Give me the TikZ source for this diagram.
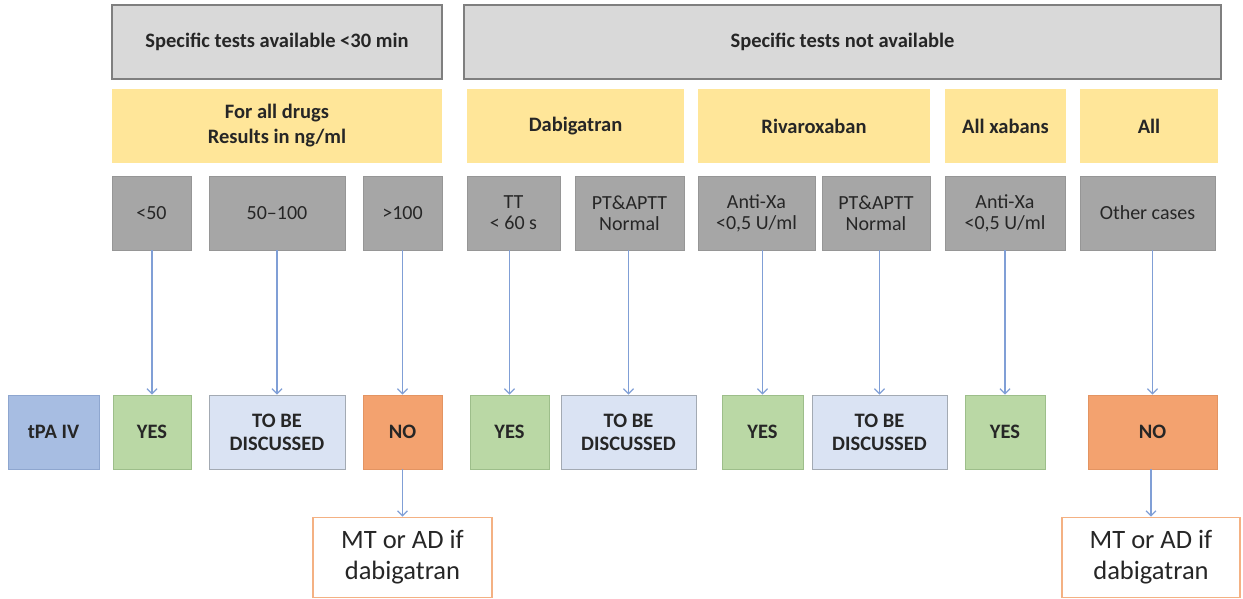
\documentclass[tikz,border=0pt]{standalone}
\usepackage{fontspec}
\setmainfont{Carlito}
\usetikzlibrary{arrows.meta}
\definecolor{hdrfill}{HTML}{D9D9D9}
\definecolor{hdrline}{HTML}{7F7F7F}
\definecolor{yel}{HTML}{FFE699}
\definecolor{gfill}{HTML}{A6A6A6}
\definecolor{gline}{HTML}{969696}
\definecolor{tpafill}{HTML}{A7BDE2}
\definecolor{tpaline}{HTML}{8EA6CF}
\definecolor{yesfill}{HTML}{BAD8A5}
\definecolor{yesline}{HTML}{9DBE8A}
\definecolor{tbdfill}{HTML}{DAE3F3}
\definecolor{tbdline}{HTML}{A3AAB3}
\definecolor{nofill}{HTML}{F3A26F}
\definecolor{noline}{HTML}{E39462}
\definecolor{mtline}{HTML}{F4B183}
\definecolor{arrc}{HTML}{809FD6}
\definecolor{txt}{HTML}{262626}
\tikzset{
  box/.style={rectangle, inner sep=0pt, align=center, text=txt, font=\fontsize{20.5}{25}\selectfont\bfseries, minimum height=74pt},
  hdr/.style={box, fill=hdrfill, draw=hdrline, line width=1.6pt},
  yelbox/.style={box, fill=yel},
  greybox/.style={box, fill=gfill, draw=gline, line width=0.8pt, font=\fontsize{20}{21}\selectfont, text=txt},
  tpabox/.style={box, fill=tpafill, draw=tpaline, line width=0.8pt},
  yesbox/.style={box, fill=yesfill, draw=yesline, line width=0.8pt},
  tbdbox/.style={box, fill=tbdfill, draw=tbdline, line width=0.8pt, font=\fontsize{20.5}{23}\selectfont\bfseries},
  nobox/.style={box, fill=nofill, draw=noline, line width=0.8pt},
  mtbox/.style={box, fill=white, draw=mtline, line width=1.6pt, minimum height=80pt, font=\fontsize{26.5}{31}\selectfont},
  arr/.style={draw=arrc, line width=1.5pt, -{Straight Barb[length=5pt,width=10pt,line width=1.3pt]}}
}
\begin{document}
\begin{tikzpicture}[x=1pt,y=-1pt]
\useasboundingbox (0,0) rectangle (1243,599);
% headers
\node[hdr, minimum width=330pt] (hl) at (277,42) {Specific tests available <30 min};
\node[hdr, minimum width=757pt] (hr) at (842.5,42) {Specific tests not available};
% yellow
\node[yelbox, minimum width=330pt] (y1) at (277,126) {For all drugs\\Results in ng/ml};
\node[yelbox, minimum width=217pt] (y2) at (575.5,126) {Dabigatran};
\node[yelbox, minimum width=232pt] (y3) at (814,126) {Rivaroxaban};
\node[yelbox, minimum width=121pt] (y4) at (1005.5,126) {All xabans};
\node[yelbox, minimum width=138pt] (y5) at (1149,126) {All};
% grey
\node[greybox, minimum width=79pt] (g1) at (151.5,213) {<50};
\node[greybox, minimum width=136pt] (g2) at (277,213) {50--100};
\node[greybox, minimum width=79pt] (g3) at (402.5,213) {>100};
\node[greybox, minimum width=93pt] (g4) at (513.5,213) {TT\\< 60 s};
\node[greybox, minimum width=109pt] (g5) at (629.5,213) {PT\&APTT\\Normal};
\node[greybox, minimum width=117pt] (g6) at (756.5,213) {Anti-Xa\\<0,5 U/ml};
\node[greybox, minimum width=108pt] (g7) at (876,213) {PT\&APTT\\Normal};
\node[greybox, minimum width=120pt] (g8) at (1005,213) {Anti-Xa\\<0,5 U/ml};
\node[greybox, minimum width=135pt] (g9) at (1147.5,213) {Other cases};
% bottom row
\node[tpabox, minimum width=91pt] (tpa) at (53.5,432) {tPA IV};
\node[yesbox, minimum width=78pt] (b1) at (152,432) {YES};
\node[tbdbox, minimum width=136pt] (b2) at (277,432) {TO BE\\DISCUSSED};
\node[nobox, minimum width=79pt] (b3) at (402.5,432) {NO};
\node[yesbox, minimum width=79pt] (b4) at (509.5,432) {YES};
\node[tbdbox, minimum width=135pt] (b5) at (628.5,432) {TO BE\\DISCUSSED};
\node[yesbox, minimum width=81pt] (b6) at (762.5,432) {YES};
\node[tbdbox, minimum width=135pt] (b7) at (879.5,432) {TO BE\\DISCUSSED};
\node[yesbox, minimum width=80pt] (b8) at (1005,432) {YES};
\node[nobox, minimum width=129pt] (b9) at (1152.5,432) {NO};
% MT boxes
\node[mtbox, minimum width=179pt] (m1) at (402.5,557.5) {MT or AD if\\dabigatran};
\node[mtbox, minimum width=178pt] (m2) at (1151,557.5) {MT or AD if\\dabigatran};
% arrows
\foreach \i in {1,...,9}{
  \draw[arr] (b\i.north |- g\i.south) -- (b\i.north);
}
\draw[arr] (b3.south) -- (m1.north);
\draw[arr] (b9.south -| m2.north) -- (m2.north);
\end{tikzpicture}
\end{document}
